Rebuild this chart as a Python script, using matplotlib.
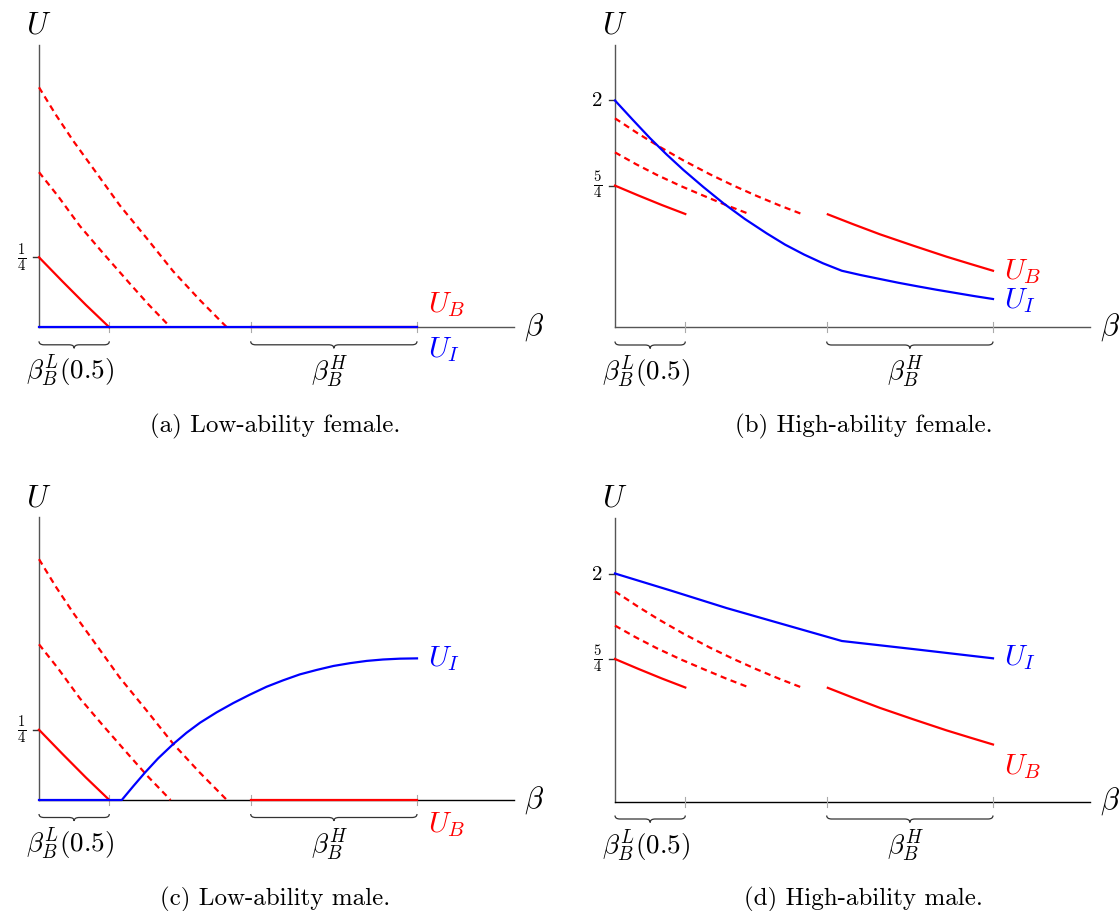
import matplotlib
matplotlib.use("Agg")
import matplotlib.pyplot as plt
from matplotlib.path import Path
from matplotlib.patches import PathPatch

plt.rcParams['mathtext.fontset'] = 'cm'
plt.rcParams['axes.formatter.use_mathtext'] = True

# beta landmarks (x axis runs 0..1 over the plotted range)
beta_ticks = [0.186, 0.56, 1.0]
brace_spans = [(0.0, 0.186), (0.56, 1.0)]
brace_labels = [r'$\beta_B^L(0.5)$', r'$\beta_B^H$']

# low ability, U_B (same for female and male)
lo_ub_solid_x = [0.0, 0.062, 0.124, 0.186]
lo_ub_solid_y = [0.25, 0.164, 0.080, 0.0]
lo_ub_dash1_x = [0.0, 0.05, 0.108, 0.17, 0.241, 0.29, 0.348]
lo_ub_dash1_y = [0.554, 0.469, 0.362, 0.264, 0.155, 0.081, 0.0]
lo_ub_dash2_x = [0.0, 0.045, 0.091, 0.15, 0.214, 0.285, 0.355, 0.425, 0.497]
lo_ub_dash2_y = [0.857, 0.758, 0.665, 0.555, 0.435, 0.318, 0.200, 0.098, 0.0]
lo_ub_flat_x = [0.56, 1.0]
lo_ub_flat_y = [0.0, 0.0]

# low ability, U_I
female_lo_ui_x = [0.0, 1.0]
female_lo_ui_y = [0.0, 0.0]
male_lo_ui_x = [0.0, 0.219, 0.25, 0.28, 0.315, 0.355, 0.39, 0.426, 0.47, 0.514, 0.558,
                0.602, 0.646, 0.69, 0.735, 0.779, 0.823, 0.867, 0.91, 0.955, 1.0]
male_lo_ui_y = [0.0, 0.0, 0.05, 0.097, 0.148, 0.199, 0.239, 0.275, 0.312, 0.345, 0.375,
                0.403, 0.426, 0.447, 0.463, 0.477, 0.487, 0.495, 0.500, 0.503, 0.504]

# high ability, U_B (same for female and male)
hi_ub_solid1_x = [0.0, 0.062, 0.124, 0.186]
hi_ub_solid1_y = [1.25, 1.163, 1.079, 1.0]
hi_ub_dash1_x = [0.0, 0.055, 0.111, 0.175, 0.235, 0.295, 0.355]
hi_ub_dash1_y = [1.543, 1.44, 1.344, 1.245, 1.16, 1.077, 1.0]
hi_ub_dash2_x = [0.0, 0.06, 0.115, 0.18, 0.251, 0.315, 0.375, 0.435, 0.494]
hi_ub_dash2_y = [1.843, 1.711, 1.598, 1.474, 1.350, 1.248, 1.159, 1.076, 1.0]
hi_ub_solid2_x = [0.563, 0.63, 0.701, 0.789, 0.877, 0.94, 1.0]
hi_ub_solid2_y = [0.997, 0.91, 0.821, 0.721, 0.624, 0.56, 0.50]

# high ability, U_I
female_hi_ui_x = [0.0, 0.047, 0.093, 0.137, 0.181, 0.234, 0.287, 0.344, 0.401, 0.45, 0.5,
                  0.55, 0.6, 0.65, 0.7, 0.75, 0.8, 0.85, 0.9, 0.95, 1.0]
female_hi_ui_y = [2.0, 1.83, 1.667, 1.523, 1.388, 1.237, 1.094, 0.955, 0.83, 0.73, 0.643,
                  0.566, 0.5, 0.462, 0.428, 0.394, 0.363, 0.333, 0.305, 0.277, 0.251]
male_hi_ui_x = [0.0, 0.15, 0.295, 0.45, 0.6, 0.8, 1.0]
male_hi_ui_y = [2.0, 1.848, 1.697, 1.55, 1.408, 1.333, 1.256]

lo_yticks = [0.25]
lo_yticklabels = [r'$\frac{1}{4}$']
hi_yticks = [2.0, 1.25]
hi_yticklabels = [r'$2$', r'$\frac{5}{4}$']

captions = ['(a) Low-ability female.', '(b) High-ability female.',
            '(c) Low-ability male.', '(d) High-ability male.']

RED = '#ff0000'
BLUE = '#0000ff'
W, H = 1120, 911
fig = plt.figure(figsize=(W / 100, H / 100), dpi=100)


def make_axes(x0, y0, sx, sy, left, top, right, bottom):
    ax = fig.add_axes([left / W, 1 - bottom / H, (right - left) / W, (bottom - top) / H])
    ax.set_xlim((left - x0) / sx, (right - x0) / sx)
    ax.set_ylim((y0 - bottom) / sy, (y0 - top) / sy)
    ax.axis('off')
    return ax


def brace(ax, x1, x2, sx, sy):
    px, py = 1 / sx, 1 / sy
    y0 = -14 * py
    ym = -17.5 * py
    yt = -21 * py
    r = 5 * px
    xc = (x1 + x2) / 2
    verts = [(x1, y0), (x1, ym), (x1 + r, ym), (xc - r, ym), (xc, ym), (xc, yt),
             (xc, ym), (xc + r, ym), (x2 - r, ym), (x2, ym), (x2, y0)]
    codes = [Path.MOVETO, Path.CURVE3, Path.CURVE3, Path.LINETO, Path.CURVE3, Path.CURVE3,
             Path.CURVE3, Path.CURVE3, Path.LINETO, Path.CURVE3, Path.CURVE3]
    ax.add_patch(PathPatch(Path(verts, codes), fill=False, lw=0.9, color='#333333'))


def frame(ax, sx, sy, ytop, yticks, yticklabels, xcolor, ulab_y):
    px, py = 1 / sx, 1 / sy
    ax.plot([0, 0], [0, ytop], color='#555555', lw=1.0, zorder=1)
    ax.plot([0, 1.257], [0, 0], color=xcolor, lw=1.0, zorder=1)
    for xt in beta_ticks:
        ax.plot([xt, xt], [-5 * py, 5 * py], color='#aaaaaa', lw=0.8, zorder=1)
    for yt, lab in zip(yticks, yticklabels):
        ax.plot([-6 * px, 0], [yt, yt], color='#333333', lw=1.0, zorder=1)
        ax.text(-13 * px, yt, lab, ha='right', va='center', fontsize=15)
    for (a, b), lab in zip(brace_spans, brace_labels):
        brace(ax, a, b, sx, sy)
        ax.text((a + b) / 2 - 4 * px, -44 * py, lab, ha='center', va='center', fontsize=19.5)
    ax.text(0, ulab_y, r'$U$', ha='center', va='center', fontsize=22)
    ax.text(1.31, 0, r'$\beta$', ha='center', va='center', fontsize=22)


def low_ub(ax):
    ax.plot(lo_ub_solid_x, lo_ub_solid_y, color=RED, lw=1.6, zorder=3)
    ax.plot(lo_ub_dash1_x, lo_ub_dash1_y, color=RED, lw=1.6, ls=(0, (2.8, 2.0)), zorder=3)
    ax.plot(lo_ub_dash2_x, lo_ub_dash2_y, color=RED, lw=1.6, ls=(0, (2.8, 2.0)), zorder=3)
    ax.plot(lo_ub_flat_x, lo_ub_flat_y, color=RED, lw=1.6, zorder=3)


def high_ub(ax):
    ax.plot(hi_ub_solid1_x, hi_ub_solid1_y, color=RED, lw=1.6, zorder=3)
    ax.plot(hi_ub_dash1_x, hi_ub_dash1_y, color=RED, lw=1.6, ls=(0, (2.8, 2.0)), zorder=3)
    ax.plot(hi_ub_dash2_x, hi_ub_dash2_y, color=RED, lw=1.6, ls=(0, (2.8, 2.0)), zorder=3)
    ax.plot(hi_ub_solid2_x, hi_ub_solid2_y, color=RED, lw=1.6, zorder=3)


LAB = 21

# (a) low-ability female
sx, sy = 378, 280
ax = make_axes(39, 327.3, sx, sy, 0, 0, 560, 455)
frame(ax, sx, sy, 1.008, lo_yticks, lo_yticklabels, '#555555', 1.08)
low_ub(ax)
ax.plot(female_lo_ui_x, female_lo_ui_y, color=BLUE, lw=1.6, zorder=4)
ax.text(1.03, 0.08, r'$U_B$', color=RED, ha='left', va='center', fontsize=LAB)
ax.text(1.03, -0.081, r'$U_I$', color=BLUE, ha='left', va='center', fontsize=LAB)

# (b) high-ability female
sx, sy = 378, 113.5
ax = make_axes(615, 327.5, sx, sy, 560, 0, 1120, 455)
frame(ax, sx, sy, 2.49, hi_yticks, hi_yticklabels, '#555555', 2.665)
high_ub(ax)
ax.plot(female_hi_ui_x, female_hi_ui_y, color=BLUE, lw=1.6, zorder=4)
ax.text(1.03, 0.489, r'$U_B$', color=RED, ha='left', va='center', fontsize=LAB)
ax.text(1.03, 0.242, r'$U_I$', color=BLUE, ha='left', va='center', fontsize=LAB)

# (c) low-ability male
sx, sy = 378, 281
ax = make_axes(39, 800, sx, sy, 0, 455, 560, 911)
frame(ax, sx, sy, 1.007, lo_yticks, lo_yticklabels, '#000000', 1.075)
low_ub(ax)
ax.plot(male_lo_ui_x, male_lo_ui_y, color=BLUE, lw=1.6, zorder=4)
ax.text(1.03, 0.505, r'$U_I$', color=BLUE, ha='left', va='center', fontsize=LAB)
ax.text(1.03, -0.089, r'$U_B$', color=RED, ha='left', va='center', fontsize=LAB)

# (d) high-ability male
sx, sy = 378, 114
ax = make_axes(615, 801.5, sx, sy, 560, 455, 1120, 911)
frame(ax, sx, sy, 2.49, hi_yticks, hi_yticklabels, '#000000', 2.66)
high_ub(ax)
ax.plot(male_hi_ui_x, male_hi_ui_y, color=BLUE, lw=1.6, zorder=4)
ax.text(1.03, 1.259, r'$U_I$', color=BLUE, ha='left', va='center', fontsize=LAB)
ax.text(1.03, 0.303, r'$U_B$', color=RED, ha='left', va='center', fontsize=LAB)

cap_pos = [(275, 432.5), (864, 432.5), (275, 905), (863, 905)]
for (cx, cy), cap in zip(cap_pos, captions):
    fig.text(cx / W, 1 - cy / H, cap, ha='center', va='baseline', fontsize=18,
             family=['cmr10', 'DejaVu Serif'])

fig.savefig('out.png', dpi=100)
